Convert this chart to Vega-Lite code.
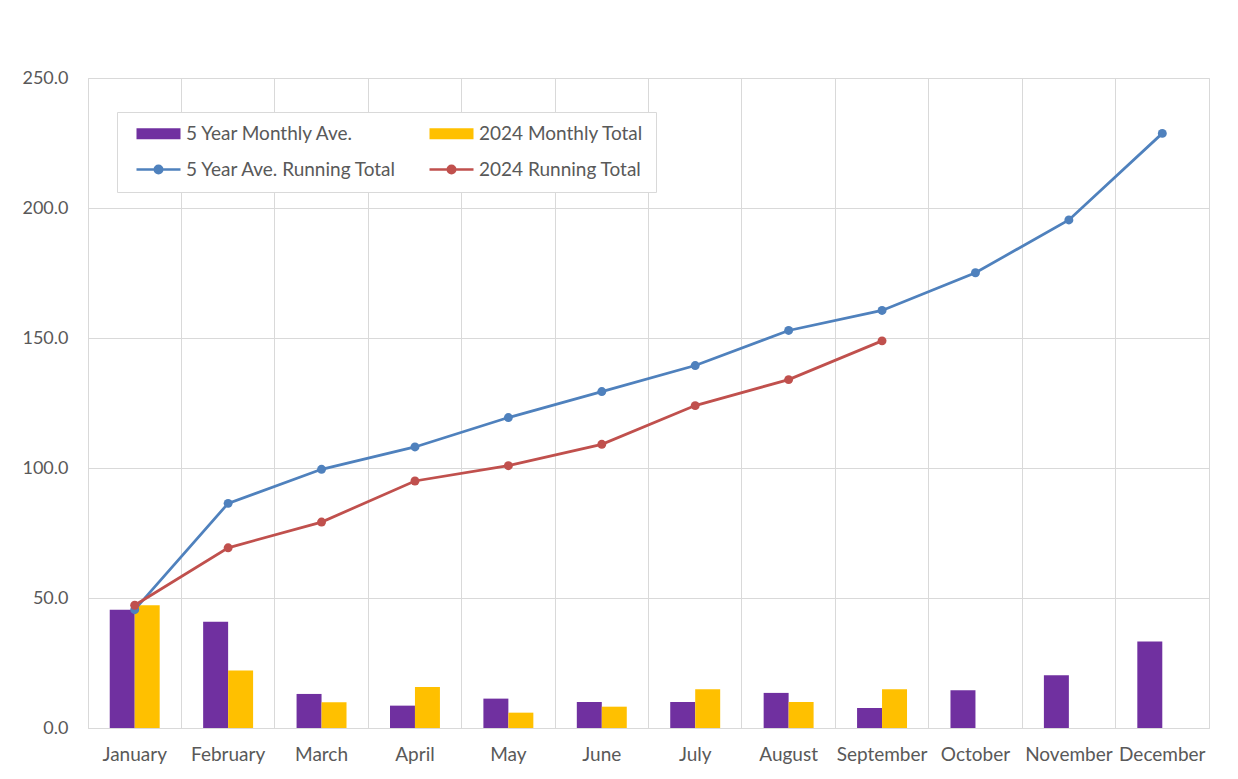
{
  "$schema": "https://vega.github.io/schema/vega-lite/v6.json",
  "width": 1121,
  "height": 650,
  "autosize": "none",
  "padding": {"left": 88, "top": 78, "right": 29, "bottom": 51},
  "background": "white",
  "config": {
    "font": "Lato",
    "view": {"stroke": "#d9d9d9", "strokeWidth": 1}
  },
  "datasets": {
    "monthly": [
      {"month": "January", "series": "5 Year Monthly Ave.", "value": 45.5},
      {"month": "February", "series": "5 Year Monthly Ave.", "value": 40.9},
      {"month": "March", "series": "5 Year Monthly Ave.", "value": 13.1},
      {"month": "April", "series": "5 Year Monthly Ave.", "value": 8.6},
      {"month": "May", "series": "5 Year Monthly Ave.", "value": 11.3},
      {"month": "June", "series": "5 Year Monthly Ave.", "value": 10.0},
      {"month": "July", "series": "5 Year Monthly Ave.", "value": 10.0},
      {"month": "August", "series": "5 Year Monthly Ave.", "value": 13.5},
      {"month": "September", "series": "5 Year Monthly Ave.", "value": 7.7},
      {"month": "October", "series": "5 Year Monthly Ave.", "value": 14.5},
      {"month": "November", "series": "5 Year Monthly Ave.", "value": 20.3},
      {"month": "December", "series": "5 Year Monthly Ave.", "value": 33.3},
      {"month": "January", "series": "2024 Monthly Total", "value": 47.2},
      {"month": "February", "series": "2024 Monthly Total", "value": 22.1},
      {"month": "March", "series": "2024 Monthly Total", "value": 9.9},
      {"month": "April", "series": "2024 Monthly Total", "value": 15.8},
      {"month": "May", "series": "2024 Monthly Total", "value": 5.9},
      {"month": "June", "series": "2024 Monthly Total", "value": 8.2},
      {"month": "July", "series": "2024 Monthly Total", "value": 14.9},
      {"month": "August", "series": "2024 Monthly Total", "value": 10.0},
      {"month": "September", "series": "2024 Monthly Total", "value": 14.9}
    ],
    "running": [
      {"month": "January", "series": "5 Year Ave. Running Total", "value": 45.5},
      {"month": "February", "series": "5 Year Ave. Running Total", "value": 86.4},
      {"month": "March", "series": "5 Year Ave. Running Total", "value": 99.5},
      {"month": "April", "series": "5 Year Ave. Running Total", "value": 108.1},
      {"month": "May", "series": "5 Year Ave. Running Total", "value": 119.4},
      {"month": "June", "series": "5 Year Ave. Running Total", "value": 129.4},
      {"month": "July", "series": "5 Year Ave. Running Total", "value": 139.4},
      {"month": "August", "series": "5 Year Ave. Running Total", "value": 152.9},
      {"month": "September", "series": "5 Year Ave. Running Total", "value": 160.6},
      {"month": "October", "series": "5 Year Ave. Running Total", "value": 175.1},
      {"month": "November", "series": "5 Year Ave. Running Total", "value": 195.4},
      {"month": "December", "series": "5 Year Ave. Running Total", "value": 228.7},
      {"month": "January", "series": "2024 Running Total", "value": 47.2},
      {"month": "February", "series": "2024 Running Total", "value": 69.3},
      {"month": "March", "series": "2024 Running Total", "value": 79.2},
      {"month": "April", "series": "2024 Running Total", "value": 95.0},
      {"month": "May", "series": "2024 Running Total", "value": 100.9},
      {"month": "June", "series": "2024 Running Total", "value": 109.1},
      {"month": "July", "series": "2024 Running Total", "value": 124.0},
      {"month": "August", "series": "2024 Running Total", "value": 134.0},
      {"month": "September", "series": "2024 Running Total", "value": 148.9}
    ]
  },
  "encoding": {
    "x": {
      "field": "month",
      "type": "nominal",
      "sort": ["January","February","March","April","May","June","July","August","September","October","November","December"],
      "scale": {"paddingInner": 0, "paddingOuter": 0},
      "axis": {
        "title": null,
        "labelAngle": 0,
        "labelFont": "Lato",
        "labelFontSize": 19,
        "labelColor": "#595959",
        "labelPadding": 17,
        "ticks": false,
        "domainColor": "#d9d9d9",
        "grid": true,
        "gridColor": "#d9d9d9",
        "bandPosition": 0
      }
    },
    "y": {
      "field": "value",
      "type": "quantitative",
      "scale": {"domain": [0, 250], "nice": false},
      "axis": {
        "title": null,
        "values": [0, 50, 100, 150, 200, 250],
        "format": ".1f",
        "labelFont": "Lato",
        "labelFontSize": 18,
        "labelColor": "#595959",
        "labelPadding": 20,
        "ticks": false,
        "domain": false,
        "gridColor": "#d9d9d9"
      }
    },
    "color": {
      "field": "series",
      "type": "nominal",
      "scale": {
        "domain": ["5 Year Monthly Ave.", "2024 Monthly Total", "5 Year Ave. Running Total", "2024 Running Total"],
        "range": ["#7030A0", "#FFC000", "#4F81BD", "#C0504D"]
      },
      "legend": {
        "title": null,
        "orient": "none",
        "legendX": 29,
        "legendY": 34,
        "direction": "horizontal",
        "columns": 2,
        "gridAlign": "each",
        "columnPadding": 24,
        "rowPadding": 16,
        "padding": 12,
        "strokeColor": "#d9d9d9",
        "fillColor": "white",
        "symbolSize": 1936,
        "symbolOffset": 20,
        "labelFont": "Lato",
        "labelFontSize": 19,
        "labelColor": "#595959",
        "labelOffset": 18,
        "labelLimit": 500,
        "encode": {
          "symbols": {
            "update": {
              "shape": {"signal": "datum.index < 2 ? 'M-1,-0.25H1V0.25H-1Z' : 'M-1,0H1M0.17,0A0.17,0.17 0 1,1 -0.17,0A0.17,0.17 0 1,1 0.17,0'"},
              "fill": {"scale": "color", "field": "value"},
              "stroke": {"scale": "color", "field": "value"},
              "strokeWidth": {"signal": "datum.index < 2 ? 0 : 2.5"},
              "opacity": {"value": 1},
              "fillOpacity": {"value": 1}
            }
          }
        }
      }
    }
  },
  "layer": [
    {
      "data": {"name": "monthly"},
      "mark": {"type": "bar"},
      "encoding": {
        "xOffset": {
          "field": "series",
          "type": "nominal",
          "scale": {"domain": ["5 Year Monthly Ave.", "2024 Monthly Total"], "paddingInner": 0, "paddingOuter": 0.87}
        }
      }
    },
    {
      "data": {"name": "running"},
      "mark": {"type": "line", "strokeWidth": 2.75, "point": {"filled": true, "size": 80, "opacity": 1}},
      "encoding": {}
    }
  ]
}
